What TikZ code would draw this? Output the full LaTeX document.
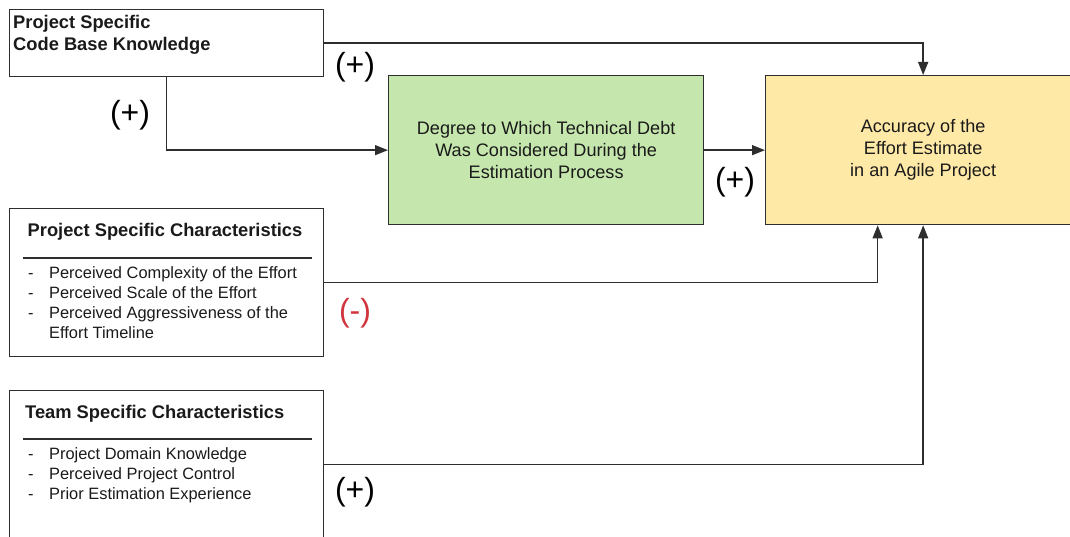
\documentclass[tikz,border=0pt]{standalone}
\usepackage{fontspec}
\setmainfont{Liberation Sans}
\usetikzlibrary{arrows.meta,calc}
\definecolor{greenbox}{HTML}{C5E6AC}
\definecolor{yellowbox}{HTML}{FFE9A6}
\definecolor{linec}{HTML}{2E2E2E}
\definecolor{txtc}{HTML}{1A1A1A}
\definecolor{minusc}{HTML}{D0343C}
\begin{document}
\begin{tikzpicture}[x=1pt,y=-1pt,
  box/.style={draw=linec, line width=1.3pt, inner sep=0pt, anchor=north west},
  conn/.style={draw=linec, line width=1.4pt, -{Triangle[length=13pt,width=10pt]}},
  sign/.style={font=\fontsize{32}{34}\selectfont, inner sep=0pt},
  bodytxt/.style={font=\fontsize{18.1}{22}\selectfont, text=txtc, align=center},
  titletxt/.style={font=\fontsize{18.3}{22}\selectfont\bfseries, text=txtc, inner sep=0pt, anchor=base west},
  itemtxt/.style={font=\fontsize{16.4}{20}\selectfont, text=txtc, inner sep=0pt, anchor=base west}
]
\path[use as bounding box] (0,0) rectangle (1070,537);
\clip (0,0) rectangle (1070,537);

% boxes
\node[box, minimum width=314pt, minimum height=67pt] (code) at (9,9) {};
\node[titletxt] (codet) at (13,29) {\begin{tabular}[t]{@{}l@{}}Project Specific\\Code Base Knowledge\end{tabular}};

\node[box, fill=greenbox, minimum width=315pt, minimum height=149pt, bodytxt] (debt) at (388,75)
  {Degree to Which Technical Debt\\Was Considered During the\\Estimation Process};

\node[box, fill=yellowbox, minimum width=315pt, minimum height=149pt, bodytxt] (acc) at (765,75)
  {Accuracy of the\\Effort Estimate\\in an Agile Project};

\node[box, minimum width=314pt, minimum height=148pt] (proj) at (9,208) {};
\node[titletxt] (projt) at (27.5,237) {Project Specific Characteristics};
\coordinate (projrl) at (23,258);
\coordinate (projrr) at (312,258);
\draw[draw=linec, line width=1.3pt] (projrl) -- (projrr);
\node[itemtxt] (proji) at (28,278) {\begin{tabular}[t]{@{}p{21pt}@{}l@{}}
-& Perceived Complexity of the Effort\\
-& Perceived Scale of the Effort\\
-& Perceived Aggressiveness of the\\
 & Effort Timeline
\end{tabular}};

\node[box, minimum width=314pt, minimum height=148pt] (team) at (9,390) {};
\node[titletxt] (teamt) at (25,418) {Team Specific Characteristics};
\coordinate (teamrl) at (23,439);
\coordinate (teamrr) at (312,439);
\draw[draw=linec, line width=1.3pt] (teamrl) -- (teamrr);
\node[itemtxt] (teami) at (28,459) {\begin{tabular}[t]{@{}p{21pt}@{}l@{}}
-& Project Domain Knowledge\\
-& Perceived Project Control\\
-& Prior Estimation Experience
\end{tabular}};

% connectors
\draw[conn] (code.east) -| (acc.north);
\draw[conn] (code.south) |- (debt.west);
\draw[conn] (debt.east) -- (acc.west);
\draw[conn] (proj.east) -| ([xshift=-45.5pt]acc.south);
\draw[conn] (team.east) -| (acc.south);

% signs
\node[sign] (s1) at (355,67) {(+)};
\node[sign] (s2) at (130,115) {(+)};
\node[sign] (s3) at (735,182) {(+)};
\node[sign, text=minusc] (s4) at (355,313) {(-)};
\node[sign] (s5) at (355,492) {(+)};
\end{tikzpicture}
\end{document}
